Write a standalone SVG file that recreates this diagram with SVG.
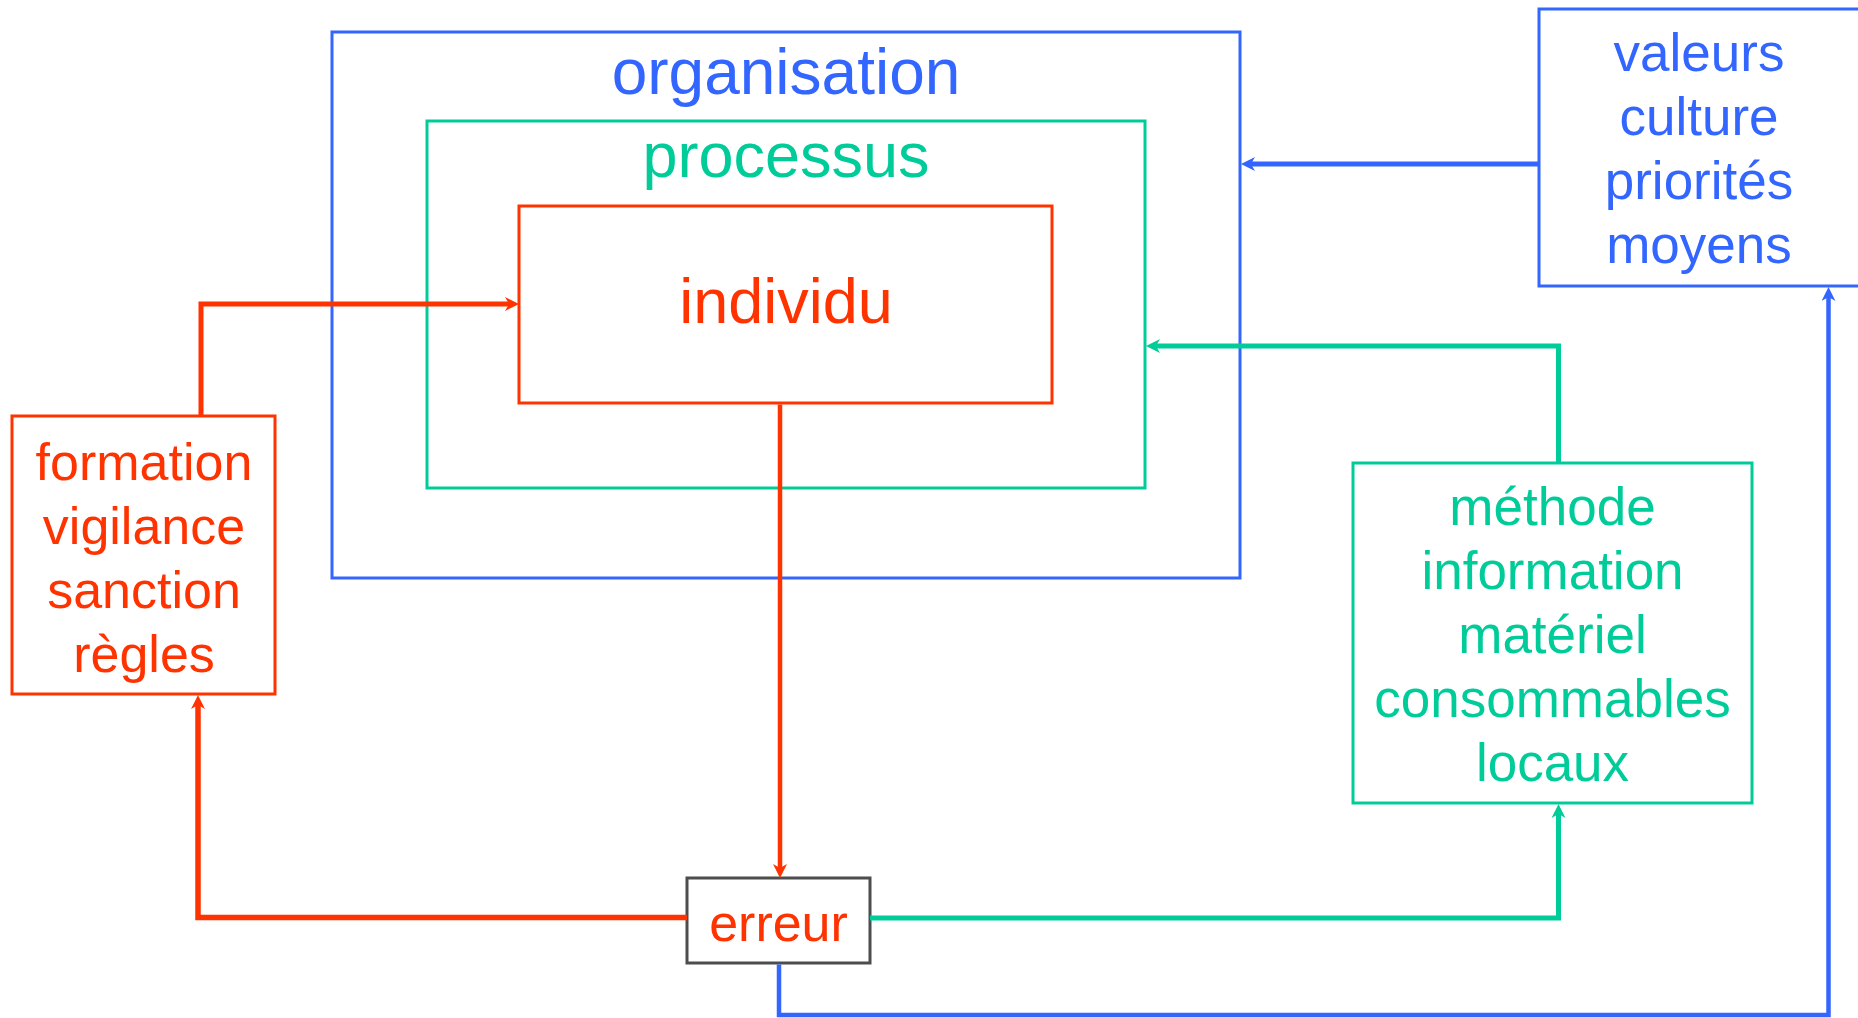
<svg xmlns="http://www.w3.org/2000/svg" width="1858" height="1018" viewBox="0 0 1858 1018">
  <style>
    .box { fill: none; stroke-width: 3; }
    .lbl { font-family: "Liberation Sans", Arial, sans-serif; text-anchor: middle; }
    .blue { stroke: #3366ff; }
    .green { stroke: #00cc99; }
    .red { stroke: #ff3300; }
    .tblue { fill: #3366ff; }
    .tgreen { fill: #00cc99; }
    .tred { fill: #ff3300; }
    .link { fill: none; stroke-linejoin: miter; stroke-linecap: butt; }
  </style>
  <defs>
    <marker id="arrow-red" viewBox="0 0 14 14" refX="6" refY="7" markerWidth="14" markerHeight="14" markerUnits="userSpaceOnUse" orient="auto">
      <path d="M0,0 L14,7 L0,14 L4,7 Z" fill="#ff3300"/>
    </marker>
    <marker id="arrow-green" viewBox="0 0 14 14" refX="6" refY="7" markerWidth="14" markerHeight="14" markerUnits="userSpaceOnUse" orient="auto">
      <path d="M0,0 L14,7 L0,14 L4,7 Z" fill="#00cc99"/>
    </marker>
    <marker id="arrow-blue" viewBox="0 0 14 14" refX="6" refY="7" markerWidth="14" markerHeight="14" markerUnits="userSpaceOnUse" orient="auto">
      <path d="M0,0 L14,7 L0,14 L4,7 Z" fill="#3366ff"/>
    </marker>
  </defs>

  <rect width="1858" height="1018" fill="#ffffff"/>

  <!-- nested frames -->
  <g id="organisation">
    <rect class="box blue" x="332" y="32" width="908" height="546" stroke-width="2.5"/>
    <text class="lbl tblue" x="786" y="94" font-size="64">organisation</text>
  </g>
  <g id="processus">
    <rect class="box green" x="427" y="121" width="718" height="367"/>
    <text class="lbl tgreen" x="786" y="177" font-size="63">processus</text>
  </g>
  <g id="individu">
    <rect class="box red" x="519" y="206" width="533" height="197"/>
    <text class="lbl tred" x="786" y="323" font-size="63">individu</text>
  </g>

  <!-- side boxes -->
  <g id="valeurs">
    <rect class="box blue" x="1539" y="9" width="322" height="277"/>
    <g class="lbl tblue" font-size="53">
      <text x="1699" y="71">valeurs</text>
      <text x="1699" y="135">culture</text>
      <text x="1699" y="199">priorités</text>
      <text x="1699" y="263">moyens</text>
    </g>
  </g>
  <g id="formation">
    <rect class="box red" x="12" y="416" width="263" height="278"/>
    <g class="lbl tred" font-size="52">
      <text x="144" y="480">formation</text>
      <text x="144" y="544">vigilance</text>
      <text x="144" y="608">sanction</text>
      <text x="144" y="672">règles</text>
    </g>
  </g>
  <g id="methode">
    <rect class="box green" x="1353" y="463" width="399" height="340"/>
    <g class="lbl tgreen" font-size="53">
      <text x="1552.5" y="525">méthode</text>
      <text x="1552.5" y="589">information</text>
      <text x="1552.5" y="653">matériel</text>
      <text x="1552.5" y="717">consommables</text>
      <text x="1552.5" y="781">locaux</text>
    </g>
  </g>
  <g id="erreur">
    <rect class="box" x="687" y="878" width="183" height="85" stroke="#4d4d4d" stroke-width="3.2"/>
    <text class="lbl tred" x="778.5" y="941" font-size="52">erreur</text>
  </g>

  <!-- connectors -->
  <g id="connectors">
    <path class="link red" stroke-width="5" d="M201,416 V304 H511" marker-end="url(#arrow-red)"/>
    <path class="link red" stroke-width="4.5" d="M780,404.5 V870" marker-end="url(#arrow-red)"/>
    <path class="link red" stroke-width="5.5" d="M687,917.5 H198 V703" marker-end="url(#arrow-red)"/>
    <path class="link green" stroke-width="5" d="M870,918 H1558.5 V812" marker-end="url(#arrow-green)"/>
    <path class="link green" stroke-width="5" d="M1558.5,463 V346 H1154" marker-end="url(#arrow-green)"/>
    <path class="link blue" stroke-width="5" d="M1538,164 H1249" marker-end="url(#arrow-blue)"/>
    <path class="link blue" stroke-width="4.5" d="M779,964.5 V1015 H1828.5 V295" marker-end="url(#arrow-blue)"/>
  </g>
</svg>
